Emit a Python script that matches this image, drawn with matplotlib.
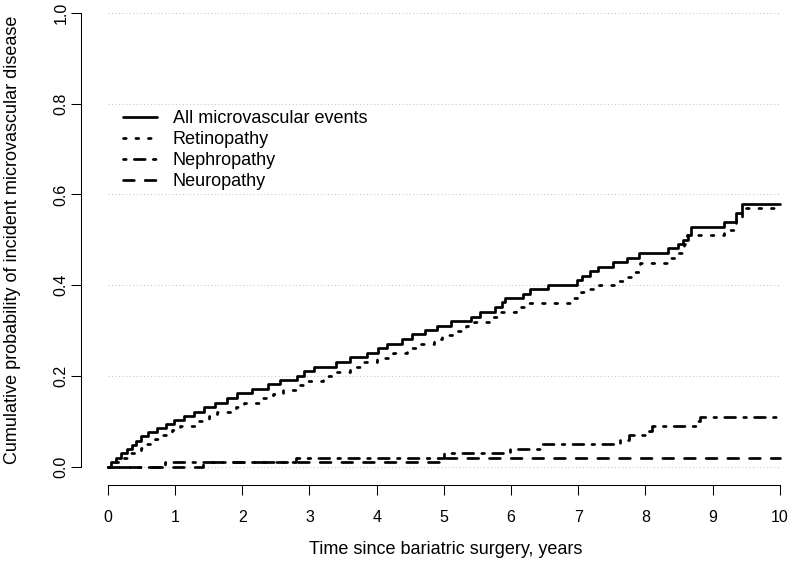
import numpy as np
import matplotlib.pyplot as plt

plt.rcParams['font.family'] = ['Liberation Sans', 'DejaVu Sans']

FOLLOW_UP = 10.0

# ===== data: step times (years) and cumulative probability after each step =====
all_t = [0.04, 0.12, 0.19, 0.28, 0.36, 0.42, 0.49, 0.59, 0.73, 0.86, 0.98,
         1.13, 1.28, 1.43, 1.60, 1.77, 1.92, 2.14, 2.39, 2.56, 2.81, 2.92,
         3.06, 3.40, 3.60, 3.86, 4.02, 4.15, 4.37, 4.52, 4.72, 4.90, 5.11,
         5.40, 5.54, 5.76, 5.86, 5.91, 6.18, 6.28, 6.55, 6.98, 7.06, 7.17,
         7.30, 7.52, 7.72, 7.91, 8.33, 8.49, 8.56, 8.64, 8.67, 9.17, 9.35, 9.43]
all_p = [0.010, 0.020, 0.030, 0.040, 0.049, 0.058, 0.067, 0.076, 0.085, 0.094, 0.103,
         0.112, 0.121, 0.131, 0.141, 0.151, 0.162, 0.172, 0.183, 0.192, 0.201, 0.211,
         0.221, 0.231, 0.241, 0.250, 0.261, 0.271, 0.281, 0.292, 0.302, 0.311, 0.321,
         0.331, 0.341, 0.352, 0.362, 0.371, 0.381, 0.391, 0.401, 0.412, 0.420, 0.431,
         0.440, 0.451, 0.461, 0.471, 0.481, 0.490, 0.500, 0.511, 0.529, 0.540, 0.560, 0.580]

ret_t = [0.08, 0.18, 0.30, 0.50, 0.58, 0.70, 0.82, 0.95, 1.08, 1.35, 1.50,
         1.62, 1.90, 2.02, 2.28, 2.45, 2.60, 2.80, 2.98, 3.20, 3.40, 3.60,
         3.80, 4.00, 4.25, 4.45, 4.62, 4.85, 4.97, 5.20, 5.33, 5.45, 5.70,
         5.82, 6.08, 6.24, 6.93, 7.04, 7.18, 7.31, 7.60, 7.73, 7.84, 7.92,
         8.32, 8.45, 8.58, 8.62, 9.17, 9.35, 9.43]
ret_p = [0.010, 0.020, 0.031, 0.041, 0.050, 0.061, 0.071, 0.081, 0.091, 0.101, 0.111,
         0.120, 0.131, 0.140, 0.151, 0.161, 0.170, 0.180, 0.190, 0.200, 0.210, 0.220,
         0.230, 0.240, 0.250, 0.261, 0.271, 0.281, 0.291, 0.300, 0.311, 0.320, 0.331,
         0.341, 0.352, 0.360, 0.373, 0.386, 0.391, 0.400, 0.410, 0.419, 0.430, 0.450,
         0.461, 0.470, 0.490, 0.511, 0.521, 0.550, 0.570]

neph_t = [0.85, 2.80, 5.00, 5.98, 6.45, 7.62, 7.75, 8.05, 8.10, 8.78, 8.81]
neph_p = [0.010, 0.020, 0.030, 0.040, 0.050, 0.060, 0.070, 0.080, 0.090, 0.100, 0.110]

neuro_t = [1.42, 4.95]
neuro_p = [0.010, 0.020]

series_names = ["All microvascular events", "Retinopathy", "Nephropathy", "Neuropathy"]

x_ticks = list(range(0, 11))
y_ticks = [0.0, 0.2, 0.4, 0.6, 0.8, 1.0]
y_tick_labels = ["0.0", "0.2", "0.4", "0.6", "0.8", "1.0"]


def km_curve(times, probs):
    # step function starting at (0, 0), held to end of follow-up
    t = np.r_[0.0, times, FOLLOW_UP]
    p = np.r_[0.0, probs, probs[-1]]
    return t, p


# ===== plotting =====
W, H = 790, 570
fig = plt.figure(figsize=(W / 100, H / 100), dpi=100)
px_per_year = 67.2
ax_left, ax_bottom = 81, 485
ax = fig.add_axes([ax_left / W, (H - ax_bottom) / H, 10.8 * px_per_year / W, 490.3 / H])
ax.set_xlim(-0.4, 10.4)
ax.set_ylim(-0.04, 1.04)

# dotted grey guide lines
ax.hlines(y_ticks, 0, FOLLOW_UP, colors="#c4c4c4", linestyles=(0, (1, 2.4)),
          linewidth=0.75, zorder=1)

lw = 1.95
styles = ["-", (0, (1, 3.6)), (0, (1, 3, 4, 3)), (0, (4, 4))]
curves = [(all_t, all_p), (ret_t, ret_p), (neph_t, neph_p), (neuro_t, neuro_p)]
for (tt, pp), ls, name in zip(curves, styles, series_names):
    t, p = km_curve(tt, pp)
    ax.plot(t, p, drawstyle="steps-post", color="black", linewidth=lw, linestyle=ls,
            dash_capstyle="round", solid_capstyle="round", dash_joinstyle="round",
            solid_joinstyle="round", label=name, zorder=3)

for side in ["top", "right"]:
    ax.spines[side].set_visible(False)
ax.spines["left"].set_bounds(0, 1)
ax.spines["bottom"].set_bounds(0, 10)
for side in ["left", "bottom"]:
    ax.spines[side].set_linewidth(0.75)

ax.set_xticks(x_ticks)
ax.set_yticks(y_ticks)
ax.set_yticklabels(y_tick_labels, rotation=90, va="center")
ax.tick_params(axis="both", direction="out", length=7.5, width=0.75, labelsize=11.5)
ax.tick_params(axis="x", pad=10.5)
ax.tick_params(axis="y", pad=1.5)

fig.text(13 / W, 1 - 240 / H, "Cumulative probability of incident microvascular disease",
         rotation=90, ha="center", va="center", fontsize=13)
fig.text(446 / W, 1 - 549 / H, "Time since bariatric surgery, years",
         ha="center", va="center", fontsize=13)

ax.legend(loc="upper left", bbox_to_anchor=(123 / W, 1 - 110 / H),
          bbox_transform=fig.transFigure, frameon=False, fontsize=13,
          handlelength=1.9, handletextpad=0.85, labelspacing=0.22,
          borderpad=0, borderaxespad=0)

fig.savefig("out.png", dpi=100)
plt.close(fig)
